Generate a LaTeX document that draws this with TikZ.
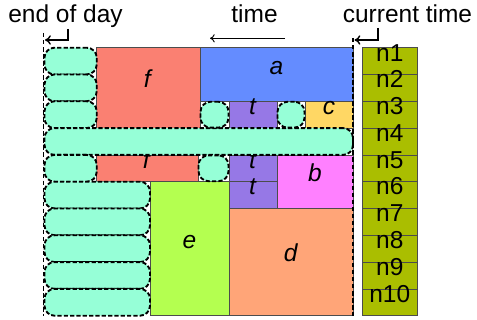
\documentclass[tikz,border=0pt]{standalone}
\usepackage{fontspec}
\setmainfont{Liberation Sans}
\usetikzlibrary{fit,arrows.meta}

\definecolor{capcol}{RGB}{150,255,215}
\definecolor{fcol}{RGB}{250,128,114}
\definecolor{acol}{RGB}{100,140,255}
\definecolor{tcol}{RGB}{150,120,230}
\definecolor{ccol}{RGB}{255,215,100}
\definecolor{bcol}{RGB}{255,128,255}
\definecolor{ecol}{RGB}{180,255,80}
\definecolor{dcol}{RGB}{255,165,120}
\definecolor{ncol}{RGB}{170,190,0}

\begin{document}
\begin{tikzpicture}[x=0.03cm,y=-0.03cm,
    txt/.style={font=\fontsize{20.9}{25}\selectfont, inner sep=0pt},
    blk/.style={txt, draw=black!70, line width=0.6pt, outer sep=0pt},
    idle/.style={draw=black, line width=1.6pt, dash pattern=on 3.6pt off 1.8pt,
                fill=capcol, rounded corners=8.5pt, inner sep=0pt, outer sep=0pt},
    bound/.style={draw=black, line width=1.3pt, dash pattern=on 3.8pt off 2.2pt},
    arr/.style={line width=1.2pt, -{To[length=5pt,width=8pt]}}]
  \useasboundingbox (0,0) rectangle (477,320);

  % labels on top
  \node(eod)[txt, anchor=base] at (65.5,22.5) {end of day};
  \node(tm)[txt, anchor=base] at (254.5,22.5) {time};
  \node(ct)[txt, anchor=base] at (407.5,22.5) {current time};

  \coordinate(eodtop) at (43.5,33);
  \coordinate(eodbot) at (43.5,315.7);
  \draw[bound] (eodtop) -- (eodbot);

  % solid jobs
  \node(F1)[blk, fill=fcol, fit={(96.7,47.7) (200,128.1)}] {\textit{f}};
  \node(A)[blk, fill=acol, fit={(200,47.7) (353,101.3)}] {\textit{a}};
  \node(T1)[blk, fill=tcol, fit={(229,101.3) (277,128.1)}] {\textit{t}};
  \node(C)[blk, fill=ccol, fit={(305,101.3) (353,128.1)}] {\textit{c}};
  \node(F2)[blk, fill=fcol, fit={(96.7,154.9) (198,181.7)}] {\textit{f}};
  \node(T2)[blk, fill=tcol, fit={(229,154.9) (277,181.7)}] {\textit{t}};
  \node(T3)[blk, fill=tcol, fit={(229,181.7) (277,208.5)}] {\textit{t}};
  \node(B)[blk, fill=bcol, fit={(277,154.9) (353,208.5)}] {\textit{b}};
  \node(E)[blk, fill=ecol, fit={(150,181.7) (229,315.7)}] {\textit{e}};
  \node(D)[blk, fill=dcol, fit={(229,208.5) (353,315.7)}] {\textit{d}};

  % idle slots
  \node(I1)[idle, fit={(44.5,47.7) (96.7,74.5)}] {};
  \node(I2)[idle, fit={(44.5,74.5) (96.7,101.3)}] {};
  \node(I3)[idle, fit={(44.5,101.3) (96.7,128.1)}] {};
  \node(I4)[idle, fit={(44.5,128.1) (353,154.9)}] {};
  \node(I5)[idle, fit={(44.5,154.9) (96.7,181.7)}] {};
  \node(I6)[idle, fit={(44.5,181.7) (150,208.5)}] {};
  \node(I7)[idle, fit={(44.5,208.5) (150,235.3)}] {};
  \node(I8)[idle, fit={(44.5,235.3) (150,262.1)}] {};
  \node(I9)[idle, fit={(44.5,262.1) (150,288.9)}] {};
  \node(I10)[idle, fit={(44.5,288.9) (150,315.7)}] {};
  \node(G1)[idle, fit={(200.5,101.8) (228.5,127.6)}] {};
  \node(G2)[idle, fit={(277.5,101.8) (304.5,127.6)}] {};
  \node(G3)[idle, fit={(198.5,155.4) (228.5,181.2)}] {};

  \coordinate(cttop) at (353,38);
  \coordinate(ctbot) at (353,315.7);
  \draw[bound] (cttop) -- (ctbot);

  % nodes
  \foreach \i in {1,...,10}{
    \pgfmathsetmacro\ytop{47.7+(\i-1)*26.8}
    \pgfmathsetmacro\ybot{47.7+\i*26.8}
    \node(n\i)[blk, fill=ncol, fit={(362.5,\ytop) (417,\ybot)}] {n\i};
  }

  % arrows
  \coordinate(eodhook) at (68,29);
  \coordinate(eodtip) at (45,40);
  \draw[arr] (eodhook) |- (eodtip);

  \coordinate(cthook) at (378,28);
  \coordinate(cttip) at (354.5,40);
  \draw[arr] (cthook) |- (cttip);

  \coordinate(tmstart) at (285,38.3);
  \coordinate(tmend) at (210,38.3);
  \draw[line width=0.8pt, -{To[length=4pt,width=7pt]}] (tmstart) -- (tmend);
\end{tikzpicture}
\end{document}
